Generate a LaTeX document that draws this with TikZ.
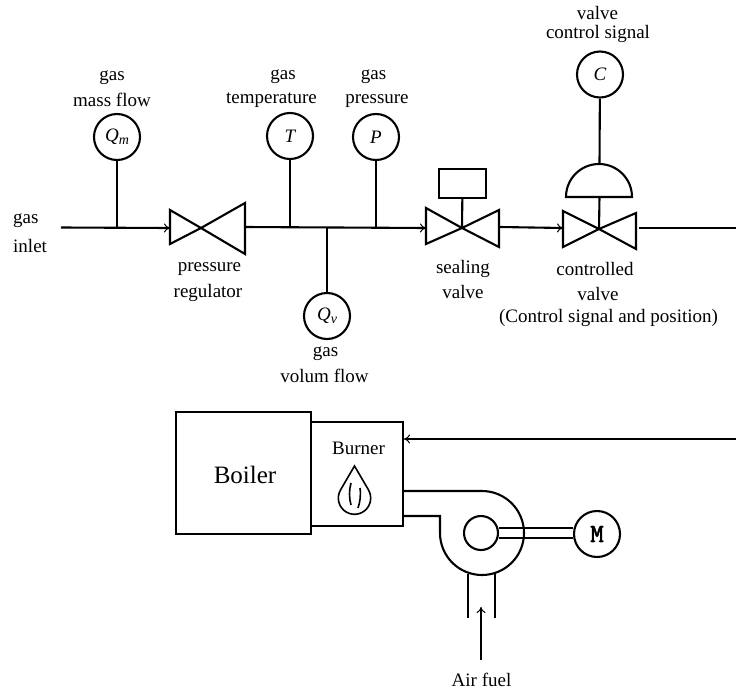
\documentclass[tikz,border=0pt]{standalone}
\usepackage{fontspec}
\setmainfont{Liberation Serif}
\newfontfamily\mfont[FakeBold=2.5]{Latin Modern Mono}
\usetikzlibrary{arrows.meta}
\newcommand{\subs}[1]{\raisebox{-0.3ex}{\fontsize{14}{14}\selectfont #1}}
\tikzset{
  x=1pt,y=-1pt,
  pipe/.style={line width=2.1pt},
  flow/.style={line width=2.1pt,-{To[length=6pt,width=9pt,line width=1pt]}},
  gauge/.style={circle,draw,line width=2.1pt,minimum size=46pt,inner sep=0pt,font=\fontsize{19}{19}\selectfont\itshape},
  lbl/.style={font=\fontsize{19}{19}\selectfont,inner sep=0pt,align=center,anchor=base},
  box/.style={draw,line width=2.1pt,inner sep=0pt},
  valvebody/.style={line width=2.1pt,line join=miter}
}
\begin{document}
\begin{tikzpicture}
\useasboundingbox (0,0) rectangle (736,693);
% valves
\coordinate (v1) at (201,228);
\coordinate (v1l) at (170,228);
\coordinate (v1r) at (245,227);
\coordinate (v2) at (462,228);
\coordinate (v2l) at (426,228);
\coordinate (v2r) at (500,227);
\coordinate (v3) at (599,229);
\coordinate (v3l) at (563,228);
\coordinate (v3r) at (639,228);
\draw[valvebody] (201,228) -- (170,210) -- (170,244) -- cycle;
\draw[valvebody] (201,228) -- (245,203) -- (245,254) -- cycle;
\draw[valvebody] (462,228) -- (426,208) -- (426,244) -- cycle;
\draw[valvebody] (462,228) -- (499,210) -- (499,247) -- cycle;
\draw[valvebody] (599,229) -- (563,211) -- (563,247) -- cycle;
\draw[valvebody] (599,229) -- (636,213) -- (636,249) -- cycle;
% gauges
\node[gauge] (qm) at (117,137) {Q\subs{m}};
\node[gauge] (t) at (290,136) {T};
\node[gauge] (p) at (376,137) {P};
\node[gauge] (qv) at (327,316) {Q\subs{v}};
\node[gauge] (c) at (600,74.5) {C};
% main line
\coordinate (inlet) at (61,227.5);
\coordinate (outlet) at (736,228);
\coordinate (jm) at (117,228);
\coordinate (jt) at (290,227);
\coordinate (jp) at (376,228);
\coordinate (jv) at (327,227.5);
\draw[flow] (inlet) -- (v1l);
\draw[flow] (v1r) -- (v2l);
\draw[flow] (v2r) -- (v3l);
\draw[pipe] (v3r) -- (outlet);
\draw[pipe] (qm) -- (jm);
\draw[pipe] (t) -- (jt);
\draw[pipe] (p) -- (jp);
\draw[pipe] (qv) -- (jv);
% actuators
\node[box,minimum width=47pt,minimum height=29pt] (act) at (462.5,183.5) {};
\draw[pipe] (act) -- (v2);
\coordinate (domeT) at (599.5,164);
\coordinate (domeB) at (599.5,197);
\draw[line width=2.1pt] (566,197) arc[start angle=180,end angle=360,radius=33] -- cycle;
\draw[pipe] (c) -- (domeT);
\draw[pipe] (domeB) -- (v3);
% boiler
\node[box,minimum width=135pt,minimum height=122pt] (boiler) at (243.5,473) {};
\node[lbl,font=\fontsize{25}{25}\selectfont] (boilertxt) at (245,483) {Boiler};
\node[box,minimum width=92pt,minimum height=104pt] (burner) at (357,474) {};
\node[lbl] (burnertxt) at (358.5,454) {Burner};
\coordinate (sig) at (736,439);
\coordinate (sigend) at (404,439);
\draw[flow] (sig) -- (sigend);
% flame
\draw[line width=1.6pt] (354.5,466) -- (340.5,490) arc[start angle=210,end angle=-30,radius=16.2] -- cycle;
\draw[line width=1.6pt] (351,483) .. controls (349,490) and (349,498) .. (351,505);
\draw[line width=1.6pt] (360,488) .. controls (361,496) and (360,502) .. (358,508);
% fan
\draw[line width=2.1pt] (404,491) -- (482,491) arc[start angle=-90,end angle=180,radius=42] -- (440,516) -- (404,516);
\node[circle,draw,line width=2.1pt,minimum size=34pt,inner sep=0pt] (rotor) at (481,533) {};
\node[gauge,font=\fontsize{26}{26}\selectfont\mfont] (m) at (597,534) {M};
\draw[pipe] (rotor.east |- 0,528) -- (m.west |- 0,528);
\draw[pipe] (rotor.east |- 0,538) -- (m.west |- 0,538);
\draw[pipe] (468,574) -- (468,618);
\draw[pipe] (495,574) -- (495,618);
\coordinate (airS) at (481,660);
\coordinate (airE) at (481,607);
\draw[flow] (airS) -- (airE);
% labels
\node[lbl] at (112,81) {gas};
\node[lbl] at (112,106) {mass flow};
\node[lbl] at (283,80) {gas};
\node[lbl] at (271.5,103) {temperature};
\node[lbl] at (373.5,80) {gas};
\node[lbl] at (377,103) {pressure};
\node[lbl] at (597.5,20) {valve};
\node[lbl] at (598,38.5) {control signal};
\node[lbl,anchor=base west] at (13,223) {gas};
\node[lbl,anchor=base west] at (13,252) {inlet};
\node[lbl] at (209.5,271) {pressure};
\node[lbl] at (208,297) {regulator};
\node[lbl] at (463,273) {sealing};
\node[lbl] at (463,298) {valve};
\node[lbl] at (595,275) {controlled};
\node[lbl] at (598,300) {valve};
\node[lbl] at (608.5,322) {(Control signal and position)};
\node[lbl] at (325.5,356) {gas};
\node[lbl] at (324.5,382) {volum flow};
\node[lbl] at (481.5,686) {Air fuel};
\end{tikzpicture}
\end{document}
